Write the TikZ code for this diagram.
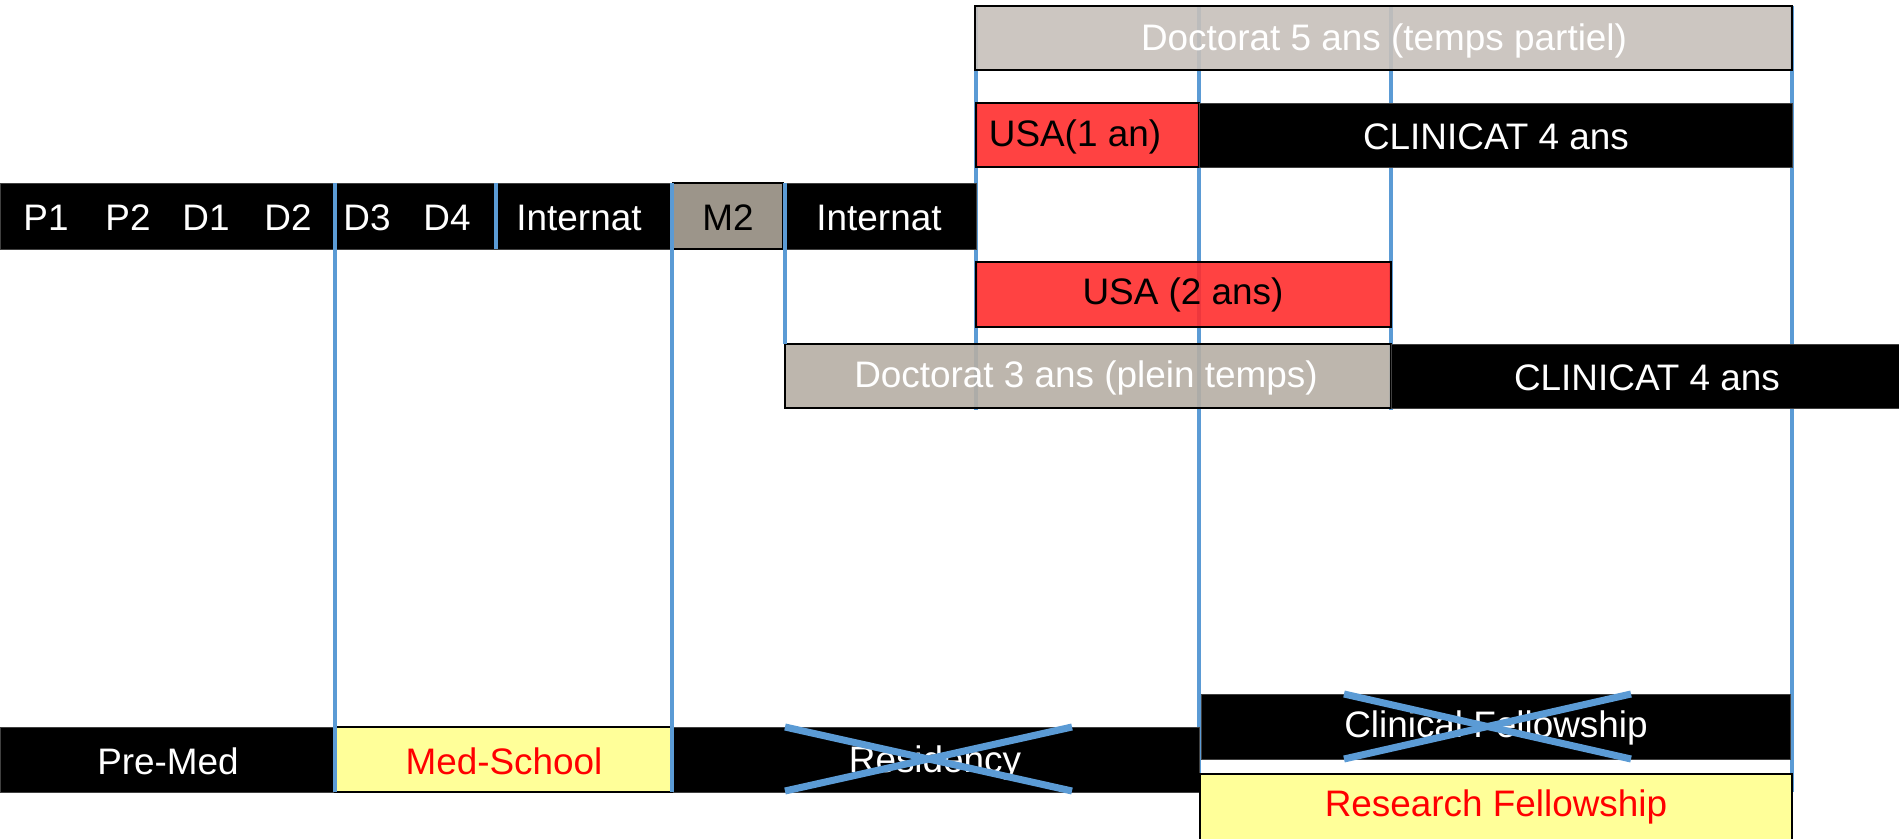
\documentclass[tikz,border=0pt]{standalone}
\usepackage{fontspec}
\setmainfont{Liberation Sans}
\usetikzlibrary{calc}

\definecolor{trait}{RGB}{91,155,213}
\definecolor{rouge}{RGB}{255,45,45}
\definecolor{grisclair}{RGB}{199,192,186}
\definecolor{grismoyen}{RGB}{182,174,164}
\definecolor{grisfonce}{RGB}{156,149,138}
\definecolor{jaune}{RGB}{255,255,153}

\tikzset{
  noir/.style={fill=black, draw=black!75, line width=0.5pt},
  doctorat/.style={fill=#1, fill opacity=0.9, draw=black, line width=1pt},
  usa/.style={fill=rouge, fill opacity=0.9, draw=black, line width=1pt},
  jaunebox/.style={fill=jaune, draw=black, line width=1pt},
  blanc/.style={text=white, inner sep=0pt},
  noirtxt/.style={text=black, inner sep=0pt},
  rougetxt/.style={text=red, inner sep=0pt},
  repere/.style={draw=trait, line width=2.6pt},
  barre/.style={draw=trait, line width=4pt, line cap=butt}
}

\begin{document}
\begin{tikzpicture}[x=0.02cm, y=-0.02cm, font=\fontsize{21}{25}\selectfont]
\useasboundingbox (0,0) rectangle (1899,838);
\clip (0,0) rectangle (1899,838);

% long guide lines (under the boxes)
\draw[repere] (976,6) -- (976,410);
\draw[repere] (1199,6) -- (1199,792);
\draw[repere] (1391,6) -- (1391,410);
\draw[repere] (1792,6) -- (1792,792);

% boxes on the right
\path[doctorat=grisclair] (975,6) rectangle (1792,70);
\node[blanc] (doc5) at (1384,41) {Doctorat 5 ans (temps partiel)};

\path[usa] (976,103) rectangle (1199,167);
\node[noirtxt] (usa1) at (1075,137) {USA(1 an)};
\path[noir] (1199,103) rectangle (1792,167);
\node[blanc] (clin1) at (1496,137) {CLINICAT 4 ans};

\path[usa] (976,262) rectangle (1391,327);
\node[noirtxt] (usa2) at (1183,295) {USA (2 ans)};

\path[doctorat=grismoyen] (785,344) rectangle (1391,408);
\node[blanc] (doc3) at (1086,378) {Doctorat 3 ans (plein temps)};
\path[noir] (1391,344) rectangle (1905,408);
\node[blanc] (clin2) at (1647,378) {CLINICAT 4 ans};

% french track
\path[noir] (0,183) rectangle (976,249);
\path[fill=grisfonce, draw=black, line width=0.8pt] (673,183) rectangle (783,249);
\node[blanc] (p1) at (46,218) {P1};
\node[blanc] (p2) at (128,218) {P2};
\node[blanc] (d1) at (206,218) {D1};
\node[blanc] (d2) at (288,218) {D2};
\node[blanc] (d3) at (367,218) {D3};
\node[blanc] (d4) at (447,218) {D4};
\node[blanc] (int1) at (579,218) {Internat};
\node[noirtxt] (m2) at (728,218) {M2};
\node[blanc] (int2) at (879,218) {Internat};

% us track
\path[noir] (0,727) rectangle (1199,792);
\path[jaunebox] (335,727) rectangle (672,792);
\node[blanc] (premed) at (168,761) {Pre-Med};
\node[rougetxt] (medschool) at (504,761) {Med-School};
\node[blanc] (residency) at (935,763) {Residency};

\path[noir] (1201,694) rectangle (1790,759);
\node[blanc] (clinfel) at (1496,728) {Clinical Fellowship};
\path[jaunebox] (1200,774) rectangle (1792,845);
\node[rougetxt] (resfel) at (1496,807) {Research Fellowship};

% short guide lines (over the boxes)
\draw[repere] (335,183) -- (335,792);
\draw[repere] (496,183) -- (496,249);
\draw[repere] (672,183) -- (672,792);
\draw[repere] (785,183) -- (785,344);

% crossed out
\draw[barre] (785,727) -- (1072,791);
\draw[barre] (785,791) -- (1072,727);
\draw[barre] (1344,694) -- (1631,759);
\draw[barre] (1344,759) -- (1631,694);

\end{tikzpicture}
\end{document}
